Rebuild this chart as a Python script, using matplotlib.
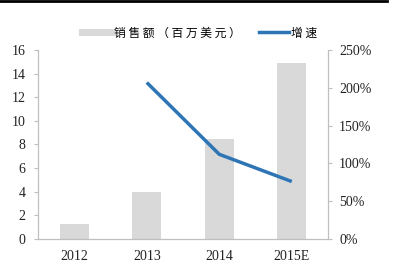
import matplotlib.pyplot as plt
from matplotlib.lines import Line2D

years = ["2012", "2013", "2014", "2015E"]
sales = [1.3, 4.0, 8.5, 14.9]
growth_years = ["2013", "2014", "2015E"]
growth = [2.07, 1.12, 0.76]

plt.rcParams["font.family"] = ["Liberation Serif", "Noto Sans CJK SC"]

fig = plt.figure(figsize=(4.07, 2.79), dpi=100)
ax = fig.add_axes([0.0934, 0.1434, 0.7126, 0.6774])
x = list(range(len(years)))
ax.bar(x, sales, width=0.4, color="#d9d9d9")
ax.set_xlim(-0.5, 3.5)
ax.set_ylim(0, 16)
ax.set_yticks(range(0, 17, 2))
ax.set_xticks(x)
ax.set_xticklabels(years)

ax2 = ax.twinx()
gx = [years.index(g) for g in growth_years]
ax2.plot(gx, growth, color="#2e75b6", lw=2.5, solid_capstyle="butt")
ax2.set_ylim(0, 2.5)
ax2.set_yticks([0, 0.5, 1.0, 1.5, 2.0, 2.5])
ax2.set_yticklabels(["0%", "50%", "100%", "150%", "200%", "250%"])

for a in (ax, ax2):
    a.spines["top"].set_visible(False)
    for s in a.spines.values():
        s.set_color("#bfbfbf")
        s.set_linewidth(0.8)
    a.tick_params(axis="both", colors="#bfbfbf", labelcolor="#222222",
                  labelsize=10, length=3, width=0.8)
ax.tick_params(axis="x", length=0, pad=8)
ax.tick_params(axis="y", pad=6)
ax2.tick_params(axis="y", pad=5)

handles = [Line2D([0], [0], color="#d9d9d9", lw=5),
           Line2D([0], [0], color="#2e75b6", lw=2.5)]
fig.legend(handles, ["销 售 额 （ 百 万 美 元 ）", "增 速"], loc="center",
           bbox_to_anchor=(0.49, 0.882), ncol=2, frameon=False,
           prop={"family": "Noto Sans CJK SC", "size": 8.5},
           handlelength=2.6, handletextpad=0.15, columnspacing=1.5)

fig.add_artist(Line2D([0, 0.95], [0.997, 0.997], color="black", lw=2.0,
                      transform=fig.transFigure))

fig.savefig("out.png", dpi=100)
